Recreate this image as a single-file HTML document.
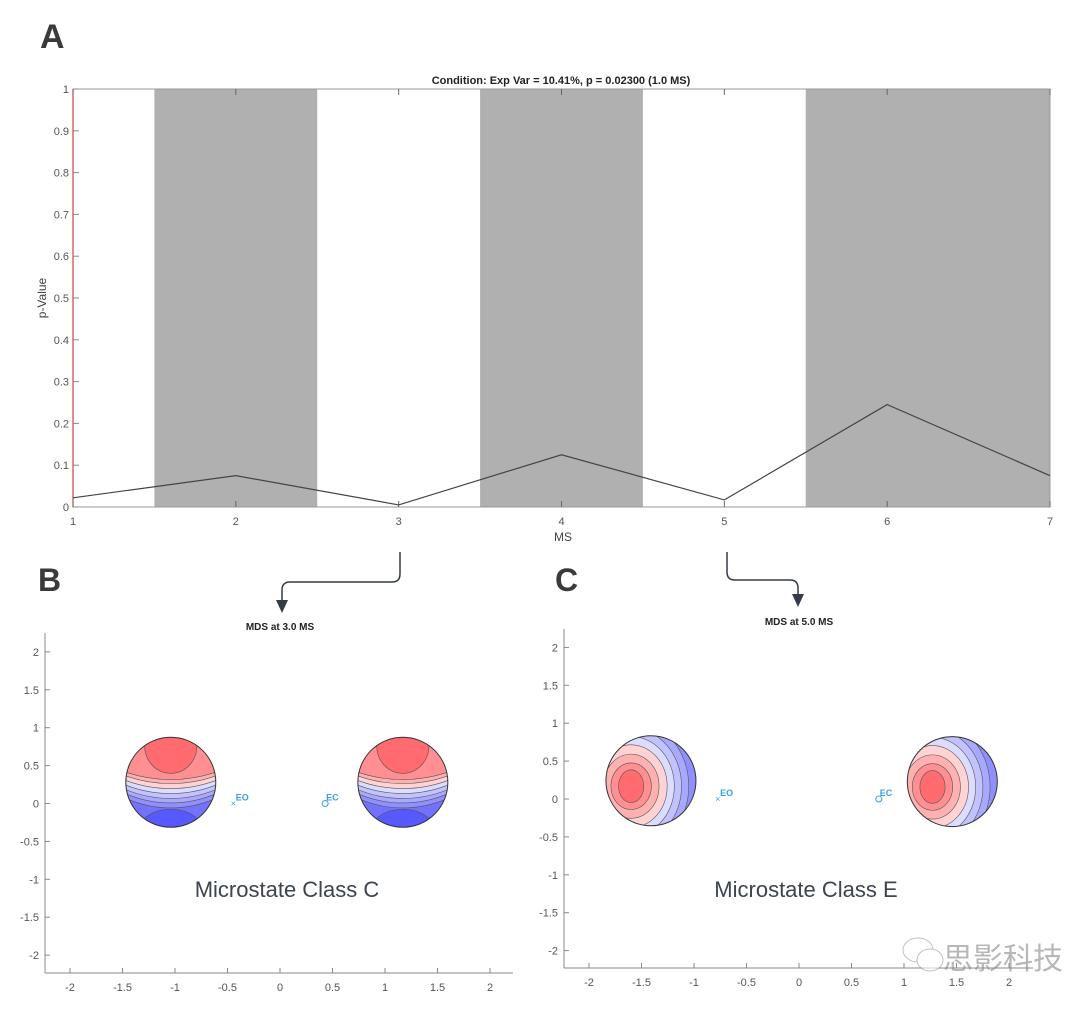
<!DOCTYPE html>
<html><head><meta charset="utf-8"><style>
body{margin:0;background:#fff;width:1080px;height:1004px;overflow:hidden;font-family:"Liberation Sans",Arial,sans-serif}
svg text{font-family:"Liberation Sans",Arial,sans-serif}
</style></head><body>
<svg id="s" width="1080" height="1004" viewBox="0 0 1080 1004">
<text x="40" y="48" font-size="34" font-weight="bold" fill="#3a3a3a">A</text>
<text x="38" y="591" font-size="32" font-weight="bold" fill="#3a3a3a">B</text>
<text x="555" y="591" font-size="32" font-weight="bold" fill="#3a3a3a">C</text>
<g id="topchart"></g>
<g id="pb"></g>
<g id="pc"></g>
<path d="M400 552 V574 Q400 582 392 582 H290 Q282 582 282 590 V602" fill="none" stroke="#333c48" stroke-width="1.5"/>
<polygon points="276,600 288,600 282,613" fill="#333c48"/>
<path d="M727 552 V572 Q727 580 735 580 H790 Q798 580 798 588 V596" fill="none" stroke="#333c48" stroke-width="1.5"/>
<polygon points="792,594 804,594 798,607" fill="#333c48"/>
<g opacity="0.6">
<ellipse cx="918" cy="950" rx="15" ry="12" fill="#fff" stroke="#999"/>
<ellipse cx="930" cy="960" rx="13" ry="11" fill="#fff" stroke="#999"/>
<text x="943" y="969" font-size="30" fill="#888" style='font-family:"Liberation Sans","Noto Sans CJK SC",sans-serif'>思影科技</text>
</g>
</svg>
<script>
const NS='http://www.w3.org/2000/svg';
function mk(p,tag,a,txt){const e=document.createElementNS(NS,tag);for(const k in a)e.setAttribute(k,a[k]);if(txt!==undefined)e.textContent=txt;p.appendChild(e);return e;}
const msCategories=[1,2,3,4,5,6,7];
const pValues=[0.022,0.075,0.005,0.125,0.017,0.245,0.075];
const shadedBands=[[1.5,2.5],[3.5,4.5],[5.5,7]];
const yTicks=[0,0.1,0.2,0.3,0.4,0.5,0.6,0.7,0.8,0.9,1];
const yTickLabels=['0','0.1','0.2','0.3','0.4','0.5','0.6','0.7','0.8','0.9','1'];
const X0=73,X1=1050,Y0=507,Y1=89;
const xs=v=>X0+(v-1)/6*(X1-X0), ys=v=>Y0-v*(Y0-Y1);
const topG=document.getElementById('topchart');
mk(topG,'rect',{x:X0,y:Y1,width:X1-X0,height:Y0-Y1,fill:'#fff'});
shadedBands.forEach((b,i)=>{const r=mk(topG,'rect',{x:xs(b[0]),y:Y1,width:xs(b[1])-xs(b[0]),height:Y0-Y1,fill:'#b0b0b0'});

});
mk(topG,'rect',{x:X0,y:Y1,width:X1-X0,height:Y0-Y1,fill:'none',stroke:'#999','stroke-width':1});
mk(topG,'line',{x1:X0,y1:Y1,x2:X0,y2:Y0,stroke:'#d04040','stroke-width':1.2});
yTicks.forEach((t,i)=>{mk(topG,'line',{x1:X0,x2:X0+6,y1:ys(t),y2:ys(t),stroke:'#888'});
const l=mk(topG,'text',{x:X0-4,y:ys(t)+4,'font-size':11,fill:'#555','text-anchor':'end'},yTickLabels[i]);

});
msCategories.forEach(c=>{mk(topG,'line',{x1:xs(c),x2:xs(c),y1:Y0,y2:Y0-6,stroke:'#666'});mk(topG,'line',{x1:xs(c),x2:xs(c),y1:Y1,y2:Y1+6,stroke:'#666'});
const l=mk(topG,'text',{x:xs(c),y:Y0+18,'font-size':11,fill:'#555','text-anchor':'middle'},String(c));

});
const ln=mk(topG,'polyline',{points:pValues.map((v,i)=>xs(msCategories[i])+','+ys(v)).join(' '),fill:'none',stroke:'#444','stroke-width':1.2});


let t=mk(topG,'text',{x:561,y:84,'font-size':11,'font-weight':'bold',fill:'#222','text-anchor':'middle'},'Condition: Exp Var = 10.41%, p = 0.02300 (1.0 MS)');

t=mk(topG,'text',{x:563,y:541,'font-size':12,fill:'#444','text-anchor':'middle'},'MS');

t=mk(topG,'text',{x:0,y:0,'font-size':12,fill:'#444','text-anchor':'middle',transform:'translate(46,298) rotate(-90)'},'p-Value');

const mdsTicks=[-2,-1.5,-1,-0.5,0,0.5,1,1.5,2];
const mdsTickLabels=['-2','-1.5','-1','-0.5','0','0.5','1','1.5','2'];
const panelB={eo:[-0.44,0],ec:[0.43,0],heads:[[-1.04,0.28],[1.17,0.28]],cls:'C'};
const panelC={eo:[-0.77,0],ec:[0.76,0],heads:[[-1.41,0.24],[1.46,0.23]],cls:'E'};
const redBlue=['#ff6b6f','#ff8f92','#ffb0b0','#ffd3d3','#dcdcff','#c2c2ff','#a8a8ff','#8f8fff','#7272ff','#5858ff'];
function panel(g,d,o){
 const px=v=>o.x0+v*o.ux, py=v=>o.y0-v*o.uy;
 mk(g,'line',{x1:o.ax,y1:o.top,x2:o.ax,y2:o.bot,stroke:'#888'});
 mk(g,'line',{x1:o.ax,y1:o.bot,x2:o.right,y2:o.bot,stroke:'#888'});
 mdsTicks.forEach((v,i)=>{mk(g,'line',{x1:px(v),x2:px(v),y1:o.bot,y2:o.bot-5,stroke:'#888'});
  let l=mk(g,'text',{x:px(v),y:o.bot+18,'font-size':11,fill:'#555','text-anchor':'middle'},mdsTickLabels[i]);
  
  mk(g,'line',{x1:o.ax,x2:o.ax+5,y1:py(v),y2:py(v),stroke:'#888'});
  l=mk(g,'text',{x:o.ax-6,y:py(v)+4,'font-size':11,fill:'#555','text-anchor':'end'},mdsTickLabels[i]);
  });
 d.heads.forEach((h,i)=>{const cx=px(h[0]),cy=py(h[1]),r=45;const id='clip'+d.cls+i;
  const cp=mk(g,'clipPath',{id:id});mk(cp,'circle',{cx:cx,cy:cy,r:r});
  const hg=mk(g,'g',{'clip-path':'url(#'+id+')'});
  
  const st={stroke:'#555','stroke-width':0.6};
  if(d.cls==='C'){
   mk(hg,'rect',{x:cx-r,y:cy-r,width:2*r,height:2*r,fill:redBlue[8]});
   const levels=[null,-0.06,0.03,0.14,0.25,0.36,0.46,0.57];
   for(let k=7;k>=1;k--){const ey=cy-2.2*r;const ry=(cy+levels[k]*r)-ey;
    mk(hg,'ellipse',Object.assign({cx:cx,cy:ey,rx:2.6*r,ry:ry,fill:redBlue[k]},st));}
   mk(hg,'ellipse',Object.assign({cx:cx,cy:cy-0.8*r,rx:0.58*r,ry:0.6*r,fill:redBlue[0]},st));
   mk(hg,'ellipse',Object.assign({cx:cx,cy:cy+1.05*r,rx:0.7*r,ry:0.45*r,fill:redBlue[9]},st));
  }else{
   mk(hg,'rect',{x:cx-r,y:cy-r,width:2*r,height:2*r,fill:redBlue[9]});
   const ext=[0.28,0.45,0.62,0.8,0.96,1.12,1.28,1.45,1.62];
   const ox=cx-0.44*r, oy=cy+0.12*r;
   for(let k=8;k>=0;k--){
    mk(hg,'ellipse',Object.assign({cx:ox,cy:oy,rx:ext[k]*r,ry:ext[k]*r*(k===0?1.3:1.15),fill:redBlue[k]},st));}
  }
  mk(g,'circle',{cx:cx,cy:cy,r:r,fill:'none',stroke:'#333','stroke-width':1});});
 const eo=mk(g,'text',{x:px(d.eo[0])-3,y:py(d.eo[1])+3,'font-size':9,fill:'#3aa0e0'},'×');
 
 mk(g,'text',{x:px(d.eo[0])+2,y:py(d.eo[1])-3,'font-size':9,'font-weight':'bold',fill:'#3aa0e0'},'EO');
 const ec=mk(g,'circle',{cx:px(d.ec[0]),cy:py(d.ec[1]),r:3,fill:'none',stroke:'#3aa0e0'});
 
 mk(g,'text',{x:px(d.ec[0])+1,y:py(d.ec[1])-3,'font-size':9,'font-weight':'bold',fill:'#3aa0e0'},'EC');
 let l=mk(g,'text',{x:o.tcx,y:o.ty,'font-size':10,'font-weight':'bold',fill:'#222','text-anchor':'middle'},o.title);
 
 l=mk(g,'text',{x:o.lcx,y:897,'font-size':22,fill:'#3c4450','text-anchor':'middle'},'Microstate Class '+d.cls);
 
}
panel(document.getElementById('pb'),panelB,{x0:280,ux:105,y0:803.5,uy:75.8,ax:45,top:633,bot:973,right:513,tcx:280,ty:630,title:'MDS at 3.0 MS',lcx:287});
panel(document.getElementById('pc'),panelC,{x0:799,ux:105,y0:799,uy:75.8,ax:564,top:629,bot:968,right:1033,tcx:799,ty:625,title:'MDS at 5.0 MS',lcx:806});
</script>
</body></html>
